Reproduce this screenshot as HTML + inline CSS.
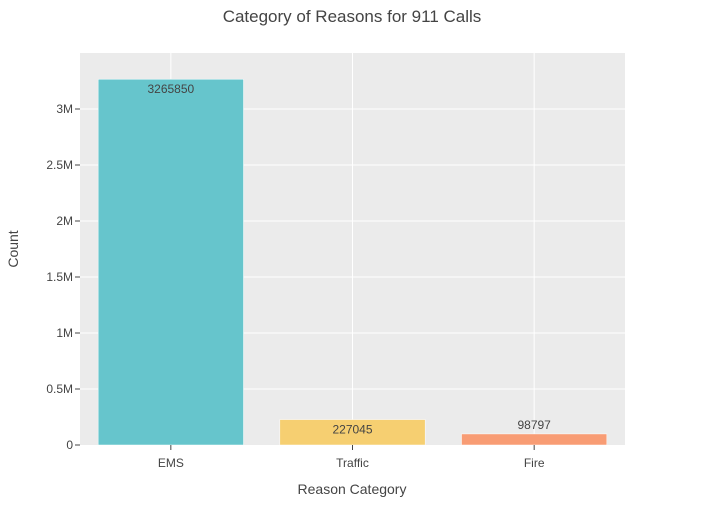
<!DOCTYPE html>
<html><head><meta charset="utf-8"><style>
body{margin:0;background:#fff;font-family:"Liberation Sans",sans-serif}
text{font-family:"Liberation Sans",sans-serif;fill:#444}
</style></head><body>
<svg id="chart" width="705" height="525">
<rect x="0" y="0" width="705" height="525" fill="#fff"/>
<rect x="80" y="53" width="545" height="392" fill="#ebebeb"/>
<g id="grid"></g><g id="bars"></g><g id="axes"></g>
<text x="352" y="22" text-anchor="middle" font-size="17">Category of Reasons for 911 Calls</text>
<text x="352" y="494" text-anchor="middle" font-size="14">Reason Category</text>
<text x="18" y="249" text-anchor="middle" font-size="14" transform="rotate(-90 18 249)">Count</text>
</svg>
<script>
const categories=["EMS","Traffic","Fire"];
const counts=[3265850,227045,98797];
const colors=["#66c5cc","#f6cf71","#f89c74"];
const yTicks=[0,500000,1000000,1500000,2000000,2500000,3000000];
const yTickLabels=["0","0.5M","1M","1.5M","2M","2.5M","3M"];
const NS="http://www.w3.org/2000/svg";
const L=80,R=625,T=53,B=445,YMAX=3500000;
const y=v=>B-(v/YMAX)*(B-T);
const band=(R-L)/categories.length;
const xc=i=>L+band*(i+0.5);
function mk(tag,attrs,parent,txt){const e=document.createElementNS(NS,tag);for(const k in attrs)e.setAttribute(k,attrs[k]);if(txt!==undefined)e.textContent=txt;document.getElementById(parent).appendChild(e);return e;}
categories.forEach((c,i)=>{
  const g=mk("line",{x1:xc(i),x2:xc(i),y1:T,y2:B,stroke:"#fff","stroke-width":1},"grid");
  
  
});
yTicks.forEach((v,i)=>{
  if(v>0){const g=mk("line",{x1:L,x2:R,y1:y(v),y2:y(v),stroke:"#fff","stroke-width":1},"grid");
  
  }
  const tk=mk("line",{x1:L-5,x2:L,y1:y(v),y2:y(v),stroke:"#444"},"axes");
  
  
  const t=mk("text",{x:L-7,y:y(v)+4,"text-anchor":"end","font-size":12},"axes",yTickLabels[i]);
  
  
});
const bw=band*0.8;
categories.forEach((c,i)=>{
  const b=mk("rect",{x:xc(i)-bw/2,y:y(counts[i]),width:bw,height:B-y(counts[i]),fill:colors[i],stroke:"#fff","stroke-width":0.5},"bars");
  
  
  const h=B-y(counts[i]);
  const ly=h>20?y(counts[i])+14:y(counts[i])-5;
  const lb=mk("text",{x:xc(i),y:ly,"text-anchor":"middle","font-size":12},"bars",String(counts[i]));
  
  
  const tk=mk("line",{x1:xc(i),x2:xc(i),y1:B,y2:B+5,stroke:"#444"},"axes");
  
  
  const t=mk("text",{x:xc(i),y:B+22,"text-anchor":"middle","font-size":12},"axes",c);
  
  
});
</script>
</body></html>
